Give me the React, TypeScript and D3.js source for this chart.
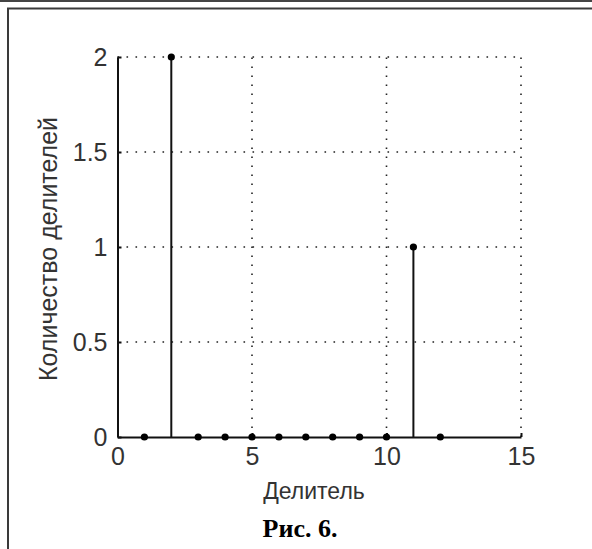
import { useEffect, useRef } from 'react';
import * as d3 from 'd3';

const divisors = [1, 2, 3, 4, 5, 6, 7, 8, 9, 10, 11, 12];
const counts = [0, 2, 0, 0, 0, 0, 0, 0, 0, 0, 1, 0];
const xTicks = [0, 5, 10, 15];
const yTicks = [0, 0.5, 1, 1.5, 2];

const xLabel = 'Делитель';
const yLabel = 'Количество делителей';
const caption = 'Рис. 6.';

export default function App() {
  const svgRef = useRef<SVGSVGElement>(null);

  useEffect(() => {
    if (!svgRef.current) return;
    const width = 592;
    const height = 549;
    const margin = { top: 57, right: 71, bottom: 112, left: 117.5 };
    const innerWidth = width - margin.left - margin.right;
    const innerHeight = height - margin.top - margin.bottom;

    const svg = d3.select(svgRef.current);
    svg.selectAll('*').remove();
    svg.attr('width', width).attr('height', height);

    // Frame lines from the scanned page
    svg.append('rect').attr('x', 0).attr('y', 0).attr('width', width).attr('height', 2).attr('fill', '#444');
    svg.append('line')
      .attr('x1', 7).attr('x2', width).attr('y1', 8.5).attr('y2', 8.5)
      .attr('stroke', '#3a3a3a').attr('stroke-width', 2);
    svg.append('line')
      .attr('x1', 8).attr('x2', 8).attr('y1', 8).attr('y2', height)
      .attr('stroke', '#3a3a3a').attr('stroke-width', 2);

    const g = svg.append('g').attr('transform', `translate(${margin.left},${margin.top})`);

    const x = d3.scaleLinear().domain([0, 15]).range([0, innerWidth]);
    const y = d3.scaleLinear().domain([0, 2]).range([innerHeight, 0]);

    const font = 'Arial, "Liberation Sans", sans-serif';

    // Dotted grid
    g.append('g')
      .selectAll('line')
      .data(xTicks.filter((t) => t > 0))
      .join('line')
      .attr('x1', (d) => x(d)).attr('x2', (d) => x(d))
      .attr('y1', y(0)).attr('y2', y(2))
      .attr('stroke', '#222').attr('stroke-width', 1.6)
      .attr('stroke-dasharray', '1.6,7.4');
    g.append('g')
      .selectAll('line')
      .data(yTicks.filter((t) => t > 0))
      .join('line')
      .attr('x1', x(0)).attr('x2', x(15))
      .attr('y1', (d) => y(d)).attr('y2', (d) => y(d))
      .attr('stroke', '#222').attr('stroke-width', 1.6)
      .attr('stroke-dasharray', '1.6,7.4');

    // X axis
    g.append('g')
      .attr('transform', `translate(0,${innerHeight})`)
      .call(d3.axisBottom(x).tickValues(xTicks).tickFormat(d3.format('d')).tickSizeInner(-4).tickSizeOuter(0).tickPadding(10))
      .call((gg) => {
        gg.select('.domain').attr('stroke', '#111').attr('stroke-width', 2);
        gg.selectAll('.tick line').attr('stroke', '#111').attr('stroke-width', 2);
        gg.selectAll('.tick text').attr('fill', '#333').attr('font-size', 25).attr('font-family', font);
      });

    // Y axis
    g.append('g')
      .call(d3.axisLeft(y).tickValues(yTicks).tickFormat((d) => String(d)).tickSizeInner(-4).tickSizeOuter(0).tickPadding(10))
      .call((gg) => {
        gg.select('.domain').attr('stroke', '#111').attr('stroke-width', 2);
        gg.selectAll('.tick line').attr('stroke', '#111').attr('stroke-width', 2);
        gg.selectAll('.tick text').attr('fill', '#333').attr('font-size', 25).attr('font-family', font);
      });

    const pts = divisors.map((d, i) => ({ d, c: counts[i] }));

    // Stems
    g.append('g')
      .selectAll('line')
      .data(pts)
      .join('line')
      .attr('x1', (p) => x(p.d)).attr('x2', (p) => x(p.d))
      .attr('y1', y(0)).attr('y2', (p) => y(p.c))
      .attr('stroke', '#111').attr('stroke-width', 2);

    // Markers
    g.append('g')
      .selectAll('circle')
      .data(pts)
      .join('circle')
      .attr('cx', (p) => x(p.d))
      .attr('cy', (p) => y(p.c))
      .attr('r', 3.6)
      .attr('fill', '#000');

    // Axis labels
    g.append('text')
      .attr('x', 314 - margin.left)
      .attr('y', 499 - margin.top)
      .attr('text-anchor', 'middle')
      .attr('fill', '#333')
      .attr('font-size', 23)
      .attr('font-family', font)
      .text(xLabel);

    g.append('text')
      .attr('transform', 'rotate(-90)')
      .attr('x', -(249 - margin.top))
      .attr('y', 57 - margin.left)
      .attr('text-anchor', 'middle')
      .attr('fill', '#333')
      .attr('font-size', 25)
      .attr('font-family', font)
      .text(yLabel);

    svg.append('text')
      .attr('x', 300)
      .attr('y', 537)
      .attr('text-anchor', 'middle')
      .attr('fill', '#000')
      .attr('font-size', 26)
      .attr('font-weight', 'bold')
      .attr('font-family', '"Liberation Serif", "Times New Roman", serif')
      .text(caption);
  }, []);

  return (
    <div style={{ position: 'absolute', left: 0, top: 0, width: 592, height: 549, background: '#fff' }}>
      <svg ref={svgRef} style={{ display: 'block' }} />
    </div>
  );
}
